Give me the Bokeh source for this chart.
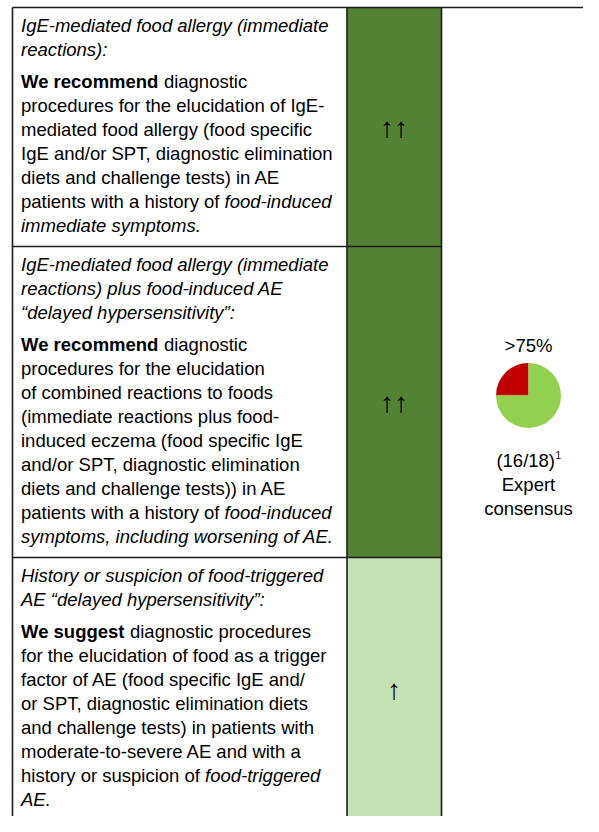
from bokeh.plotting import figure
from bokeh.models import Range1d, ColumnDataSource
from bokeh.embed import file_html
from bokeh.resources import INLINE
from bokeh.core.properties import value
import math

# ---------------- data ----------------
row_headers = [
    ["IgE-mediated food allergy (immediate", "reactions):"],
    ["IgE-mediated food allergy (immediate", "reactions) plus food-induced AE",
     "\u201cdelayed hypersensitivity\u201d:"],
    ["History or suspicion of food-triggered", "AE \u201cdelayed hypersensitivity\u201d:"],
]
row_bodies = [
    [
        [("b", "We recommend"), ("n", " diagnostic")],
        [("n", "procedures for the elucidation of IgE-")],
        [("n", "mediated food allergy (food specific")],
        [("n", "IgE and/or SPT, diagnostic elimination")],
        [("n", "diets and challenge tests) in AE")],
        [("n", "patients with a history of "), ("i", "food-induced")],
        [("i", "immediate symptoms.")],
    ],
    [
        [("b", "We recommend"), ("n", " diagnostic")],
        [("n", "procedures for the elucidation")],
        [("n", "of combined reactions to foods")],
        [("n", "(immediate reactions plus food-")],
        [("n", "induced eczema (food specific IgE")],
        [("n", "and/or SPT, diagnostic elimination")],
        [("n", "diets and challenge tests)) in AE")],
        [("n", "patients with a history of "), ("i", "food-induced")],
        [("i", "symptoms, including worsening of AE.")],
    ],
    [
        [("b", "We suggest"), ("n", " diagnostic procedures")],
        [("n", "for the elucidation of food as a trigger")],
        [("n", "factor of AE (food specific IgE and/")],
        [("n", "or SPT, diagnostic elimination diets")],
        [("n", "and challenge tests) in patients with")],
        [("n", "moderate-to-severe AE and with a")],
        [("n", "history or suspicion of "), ("i", "food-triggered")],
        [("i", "AE.")],
    ],
]
strength_labels = ["\u2191\u2191", "\u2191\u2191", "\u2191"]
strength_colors = ["#548235", "#548235", "#C5E0B3"]

consensus_label = ">75%"
consensus_votes = [16, 18]
consensus_note = "1"
consensus_words = ["Expert", "consensus"]
pie_parts = ["disagree", "agree"]
pie_shares = [25, 75]
pie_colors = ["#C00000", "#92D050"]

# ---------------- layout constants ----------------
FONT = 18.5
FONT_PX = "18.5px"
FAMILY = value("Liberation Sans")
TOP = 7.0
LEFT = 12.0
COL1_R = 346.5
COL2_R = 441.0
COL3_CX = 528.0
TEXT_X = 20.5
LH = 24.0
GAP = 8.0
PAD_TOP = 18.0
PAD_BOT = 21.0
BORDER = "#1c1c1c"

REG = {' ': 278, '!': 278, '"': 355, '%': 889, '(': 333, ')': 333, ',': 278, '-': 333, '.': 278,
       '/': 278, ':': 278, '>': 584, '\u201c': 333, '\u201d': 333,
       'A': 667, 'B': 667, 'C': 722, 'D': 722, 'E': 667, 'F': 611, 'G': 778, 'H': 722, 'I': 278,
       'J': 500, 'K': 667, 'L': 556, 'M': 833, 'N': 722, 'O': 778, 'P': 667, 'Q': 778, 'R': 722,
       'S': 667, 'T': 611, 'U': 722, 'V': 667, 'W': 944, 'X': 667, 'Y': 667, 'Z': 611,
       'a': 556, 'b': 556, 'c': 500, 'd': 556, 'e': 556, 'f': 278, 'g': 556, 'h': 556, 'i': 222,
       'j': 222, 'k': 500, 'l': 222, 'm': 833, 'n': 556, 'o': 556, 'p': 556, 'q': 556, 'r': 333,
       's': 500, 't': 278, 'u': 556, 'v': 500, 'w': 722, 'x': 500, 'y': 500, 'z': 500}
for d in "0123456789":
    REG[d] = 556
BOLD = dict(REG)
BOLD.update({'a': 556, 'b': 611, 'c': 556, 'd': 611, 'e': 556, 'f': 333, 'g': 611, 'h': 611,
             'i': 278, 'j': 278, 'k': 556, 'l': 278, 'm': 889, 'n': 611, 'o': 611, 'p': 611,
             'q': 611, 'r': 389, 's': 556, 't': 333, 'u': 611, 'v': 556, 'w': 778, 'x': 556,
             'y': 556, 'z': 500, 'W': 944})


def text_width(s, style, size=FONT):
    table = BOLD if style == "b" else REG
    return sum(table.get(ch, 556) for ch in s) / 1000.0 * size


# ---------------- figure ----------------
# data coordinates equal pixel positions of the captured picture
p = figure(width=583, height=816, x_range=Range1d(0, 583), y_range=Range1d(816, 0),
           output_backend="svg", toolbar_location=None,
           x_axis_type=None, y_axis_type=None,
           min_border=0, min_border_left=0, min_border_right=0,
           min_border_top=0, min_border_bottom=0)
p.grid.visible = False
p.outline_line_color = None
p.background_fill_color = "white"
p.border_fill_color = "white"

runs = {"n": dict(x=[], y=[], text=[]), "b": dict(x=[], y=[], text=[]), "i": dict(x=[], y=[], text=[])}

row_top, row_bot, row_mid = [], [], []
y = TOP
for hdr, body in zip(row_headers, row_bodies):
    n_lines = len(hdr) + len(body)
    h = PAD_TOP + (n_lines - 1) * LH + GAP + PAD_BOT
    first = y + PAD_TOP
    for k, line in enumerate(hdr):
        runs["i"]["x"].append(TEXT_X)
        runs["i"]["y"].append(first + k * LH)
        runs["i"]["text"].append(line)
    body_first = first + len(hdr) * LH + GAP
    for k, line in enumerate(body):
        cx = TEXT_X
        ly = body_first + k * LH
        for style, s in line:
            lead = len(s) - len(s.lstrip(" "))
            cx += text_width(" " * lead, style)
            s2 = s.lstrip(" ")
            runs[style]["x"].append(cx)
            runs[style]["y"].append(ly)
            runs[style]["text"].append(s2.rstrip(" "))
            cx += text_width(s2, style)
    row_top.append(y)
    row_bot.append(y + h)
    row_mid.append(y + h / 2)
    y += h
table_bottom = y + 30

# strength column cells (last cell continues below the visible area)
cell_bot = list(row_bot[:-1]) + [table_bottom]
p.quad(left=[COL1_R] * len(row_top), right=[COL2_R] * len(row_top),
       top=row_top, bottom=cell_bot, fill_color=strength_colors, line_color=None)

# text runs
styles = {"n": "normal", "b": "bold", "i": "italic"}
for key, st in styles.items():
    src = ColumnDataSource(runs[key])
    p.text(x="x", y="y", text="text", source=src, text_font=FAMILY, text_font_size=FONT_PX,
           text_font_style=st, text_color="black", text_baseline="middle", text_align="left")

# arrows
p.text(x=[(COL1_R + COL2_R) / 2] * len(row_mid), y=row_mid, text=strength_labels,
       text_font=FAMILY, text_font_size="28px", text_color="black",
       text_baseline="middle", text_align="center")

# borders
x0 = [LEFT, LEFT, COL1_R, COL2_R]
y0 = [TOP, TOP, TOP, TOP]
x1 = [640, LEFT, COL1_R, COL2_R]
y1 = [TOP, table_bottom, table_bottom, table_bottom]
for yb in row_bot[:-1]:
    x0.append(LEFT); y0.append(yb); x1.append(COL2_R); y1.append(yb)
p.segment(x0=x0, y0=y0, x1=x1, y1=y1, line_color=BORDER, line_width=1.6)

# consensus column
pie_cy = 395.0
p.text(x=[COL3_CX], y=[pie_cy - 50], text=[consensus_label], text_font=FAMILY,
       text_font_size=FONT_PX, text_color="black", text_baseline="middle", text_align="center")

total = float(sum(pie_shares))
start = math.pi / 2
starts, ends = [], []
for v in pie_shares:
    starts.append(start)
    start = start + 2 * math.pi * v / total
    ends.append(start)
p.wedge(x=[COL3_CX] * len(pie_shares), y=[pie_cy] * len(pie_shares), radius=32.5,
        start_angle=starts, end_angle=ends, direction="anticlock",
        fill_color=pie_colors, line_color=None)

votes_txt = "(%d/%d)" % (consensus_votes[0], consensus_votes[1])
w_main = text_width(votes_txt, "n")
w_sup = text_width(consensus_note, "n", 10)
x_start = COL3_CX - (w_main + w_sup) / 2
votes_y = pie_cy + 65
p.text(x=[x_start], y=[votes_y], text=[votes_txt], text_font=FAMILY, text_font_size=FONT_PX,
       text_color="black", text_baseline="middle", text_align="left")
p.text(x=[x_start + w_main + 0.5], y=[votes_y - 6], text=[consensus_note], text_font=FAMILY,
       text_font_size="10px", text_color="black", text_baseline="middle", text_align="left")
p.text(x=[COL3_CX] * len(consensus_words),
       y=[votes_y + LH * (k + 1) for k in range(len(consensus_words))],
       text=consensus_words, text_font=FAMILY, text_font_size=FONT_PX, text_color="black",
       text_baseline="middle", text_align="center")

open("out.html", "w").write(file_html(p, INLINE))
